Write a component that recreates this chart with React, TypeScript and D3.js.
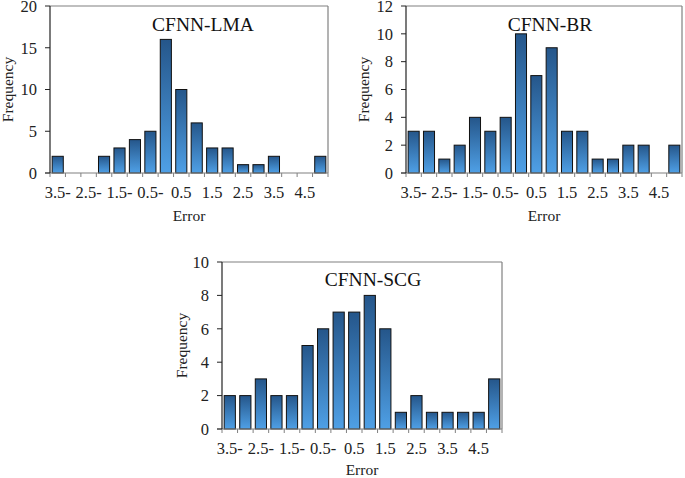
import React from 'react';
import * as d3 from 'd3';

// error bins (x categories)
const errorBins = [-3.5, -3, -2.5, -2, -1.5, -1, -0.5, 0, 0.5, 1, 1.5, 2, 2.5, 3, 3.5, 4, 4.5, 5];

// frequencies per model
const lmaFreq = [2, 0, 0, 2, 3, 4, 5, 16, 10, 6, 3, 3, 1, 1, 2, 0, 0, 2];
const brFreq = [3, 3, 1, 2, 4, 3, 4, 10, 7, 9, 3, 3, 1, 1, 2, 2, 0, 2];
const scgFreq = [2, 2, 3, 2, 2, 5, 6, 7, 7, 8, 6, 1, 2, 1, 1, 1, 1, 3];

const lmaTicks = [0, 5, 10, 15, 20];
const brTicks = [0, 2, 4, 6, 8, 10, 12];
const scgTicks = [0, 2, 4, 6, 8, 10];

// negative numbers are written with the sign after the number
const fmtBin = (v: number) => (v < 0 ? `${Math.abs(v)}-` : `${v}`);

const FONT = '"Liberation Serif", "Times New Roman", serif';

type HistProps = {
  id: string;
  title: string;
  values: number[];
  ticks: number[];
  left: number;
  right: number;
  top: number;
  bottom: number;
  titleX: number;
  titleY: number;
  yLabelX: number;
  xLabelY: number;
};

const Histogram = ({ id, title, values, ticks, left, right, top, bottom, titleX, titleY, yLabelX, xLabelY }: HistProps) => {
  const x = d3
    .scaleBand<number>()
    .domain(errorBins)
    .range([left, right])
    .paddingInner(0.28)
    .paddingOuter(0.14);
  const y = d3
    .scaleLinear()
    .domain([0, d3.max(ticks) as number])
    .range([bottom, top]);

  const step = x.step();
  const outer = x.paddingOuter() * step;
  const boundaries = d3.range(errorBins.length + 1).map((i) => left + outer - (x.paddingInner() * step) / 2 + i * step);

  return (
    <g>
      <defs>
        <linearGradient id={`grad-${id}`} x1="0" y1="0" x2="0" y2="1">
          <stop offset="0%" stopColor="#25568a" />
          <stop offset="100%" stopColor="#4fa0e6" />
        </linearGradient>
      </defs>

      {/* frame top & right */}
      <line x1={left} x2={right} y1={top} y2={top} stroke="#808080" strokeWidth={1.2} />
      <line x1={right} x2={right} y1={top} y2={bottom} stroke="#808080" strokeWidth={1.2} />

      {/* bars */}
      {values.map((v, i) =>
        v > 0 ? (
          <rect
            key={i}
            x={x(errorBins[i])}
            y={y(v)}
            width={x.bandwidth()}
            height={bottom - y(v)}
            fill={`url(#grad-${id})`}
            stroke="#111"
            strokeWidth={1}
          />
        ) : null
      )}

      {/* x axis */}
      <line x1={left - 5} x2={right} y1={bottom} y2={bottom} stroke="#808080" strokeWidth={1.2} />
      {boundaries.map((bx, i) => (
        <line key={i} x1={bx} x2={bx} y1={bottom} y2={bottom + 4} stroke="#808080" strokeWidth={1} />
      ))}
      {errorBins.map((b, i) =>
        i % 2 === 0 && i < errorBins.length - 1 ? (
          <text
            key={b}
            x={(x(b) as number) + x.bandwidth() / 2}
            y={bottom + 25}
            textAnchor="middle"
            fontFamily={FONT}
            fontSize={16.5}
            fill="#222"
          >
            {fmtBin(b)}
          </text>
        ) : null
      )}

      {/* y axis */}
      <line x1={left} x2={left} y1={top} y2={bottom} stroke="#222" strokeWidth={1.2} />
      {ticks.map((t) => (
        <g key={t}>
          <line x1={left - 5} x2={left} y1={y(t)} y2={y(t)} stroke="#222" strokeWidth={1} />
          <text x={left - 13} y={y(t)} dy="0.35em" textAnchor="end" fontFamily={FONT} fontSize={16.5} fill="#222">
            {t}
          </text>
        </g>
      ))}

      {/* labels */}
      <text x={titleX} y={titleY} textAnchor="middle" fontFamily={FONT} fontSize={19.5} fill="#111">
        {title}
      </text>
      <text
        transform={`translate(${yLabelX},${(top + bottom) / 2}) rotate(-90)`}
        textAnchor="middle"
        dy="0.35em"
        fontFamily={FONT}
        fontSize={15.5}
        fill="#222"
      >
        Frequency
      </text>
      <text x={(left + right) / 2} y={xLabelY} textAnchor="middle" fontFamily={FONT} fontSize={15.5} fill="#222">
        Error
      </text>
    </g>
  );
};

const App = () => {
  return (
    <svg
      width={685}
      height={478}
      style={{ position: 'absolute', left: 0, top: 0, background: '#fff' }}
    >
      <Histogram
        id="lma"
        title="CFNN-LMA"
        values={lmaFreq}
        ticks={lmaTicks}
        left={50}
        right={328}
        top={6}
        bottom={173}
        titleX={203}
        titleY={31}
        yLabelX={8}
        xLabelY={221}
      />
      <Histogram
        id="br"
        title="CFNN-BR"
        values={brFreq}
        ticks={brTicks}
        left={406}
        right={682}
        top={6}
        bottom={173}
        titleX={550}
        titleY={31}
        yLabelX={364}
        xLabelY={221}
      />
      <Histogram
        id="scg"
        title="CFNN-SCG"
        values={scgFreq}
        ticks={scgTicks}
        left={222}
        right={502}
        top={262}
        bottom={429}
        titleX={373}
        titleY={286}
        yLabelX={182}
        xLabelY={475}
      />
    </svg>
  );
};

export default App;
